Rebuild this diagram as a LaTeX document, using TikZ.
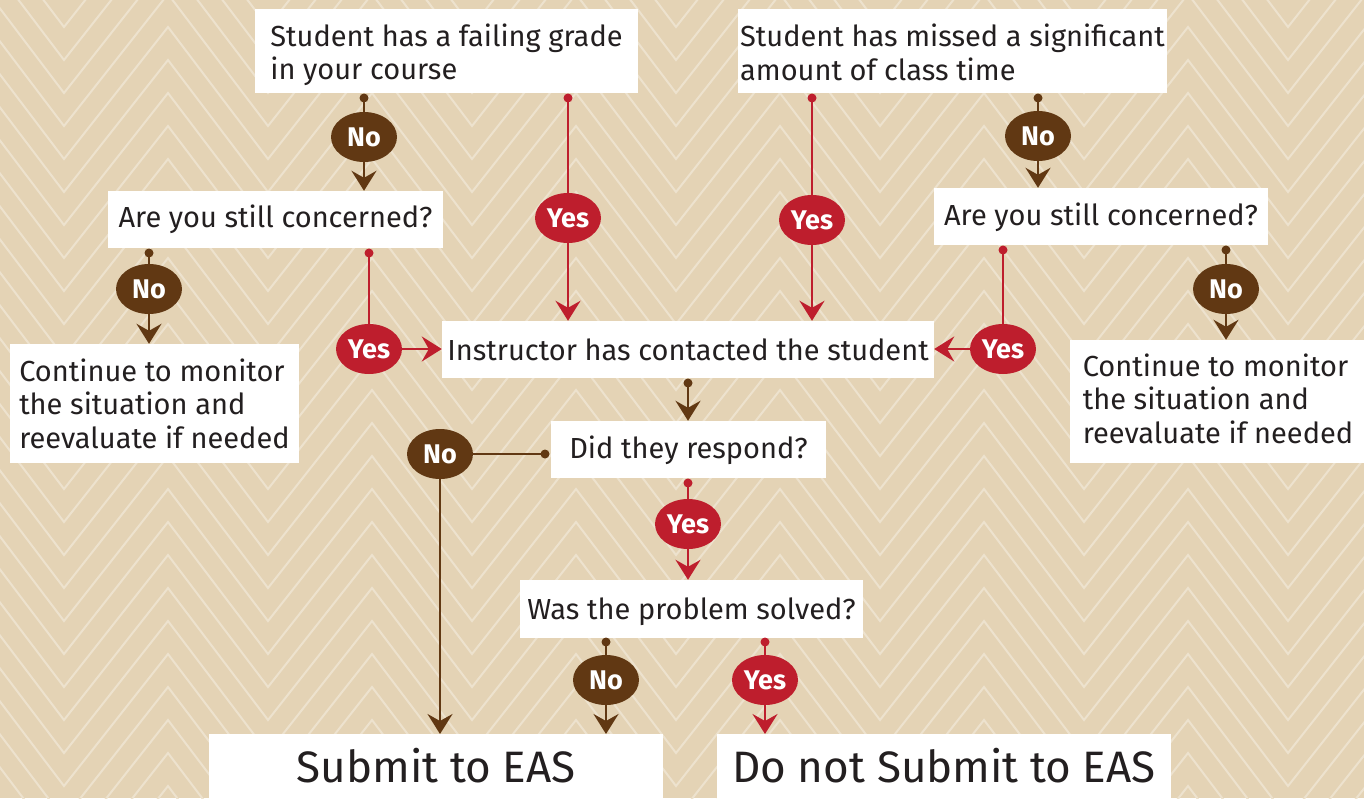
\documentclass[tikz,border=0pt]{standalone}
\usepackage{fontspec}
\setmainfont{Fira Sans}
\usetikzlibrary{shapes.geometric,arrows.meta}
\definecolor{bgc}{RGB}{228,211,181}
\definecolor{bgl}{RGB}{237,226,206}
\definecolor{brn}{RGB}{97,56,19}
\definecolor{rd}{RGB}{190,30,45}
\definecolor{txt}{RGB}{35,31,32}
\begin{document}
\begin{tikzpicture}[x=1pt,y=-1pt,
  box/.style={fill=white, text=txt, inner sep=0pt, align=left, font=\fontsize{29}{33.5}\selectfont},
  bigbox/.style={fill=white, text=txt, inner sep=0pt, anchor=north, text height=48pt, text depth=30pt, font=\fontsize{44}{50}\selectfont},
  badge/.style={ellipse, minimum width=66pt, minimum height=50pt, inner sep=0pt, text=white, font=\fontsize{27}{30}\selectfont\bfseries},
  nob/.style={badge, fill=brn},
  yesb/.style={badge, fill=rd},
  brnline/.style={draw=brn, line width=2.5pt},
  redline/.style={draw=rd, line width=2.5pt},
  arr/.style={-{Stealth[length=20pt,width=25pt,inset=7pt]}},
  bgline/.style={draw=bgl, line width=2pt},
  dotb/.style={fill=brn},
  dotr/.style={fill=rd},
]
\useasboundingbox (0,0) rectangle (1364,798);
\clip (0,0) rectangle (1364,798);
\fill[bgc] (0,0) rectangle (1364,798);
\foreach \n in {0,...,30}{
  \draw[bgline] (-140, 33*\n-6) \foreach \m in {-1,...,6}{ -- (168+204*\m, 33*\n-138) -- (268+204*\m, 33*\n-6) };
}
% boxes
\node[box, minimum width=383pt, minimum height=84pt] (b1) at (446.5,51) {\rule{0pt}{30pt}Student has a failing grade\\in your course};
\node[box, minimum width=429pt, minimum height=84pt] (b2) at (952.5,51) {\rule{0pt}{25pt}Student has missed a significant\\amount of class time};
\node[box, minimum width=335pt, minimum height=57pt] (q1) at (275.5,219.5) {Are you still concerned?};
\node[box, minimum width=334pt, minimum height=57pt] (q2) at (1101,216.5) {\rule{0pt}{25pt}Are you still concerned?};
\node[box, minimum width=289pt, minimum height=119pt] (c1) at (154.5,403.5) {Continue to monitor\\the situation and\\reevaluate if needed};
\node[box, minimum width=296pt, minimum height=123pt] (c2) at (1218,401.5) {Continue to monitor\\the situation and\\reevaluate if needed\rule[-6pt]{0pt}{0pt}};
\node[box, minimum width=492pt, minimum height=57pt] (ins) at (688,349.5) {Instructor has contacted the student};
\node[box, minimum width=275pt, minimum height=57pt] (resp) at (688.5,449.5) {\rule{0pt}{25pt}Did they respond?};
\node[box, minimum width=343pt, minimum height=58pt] (solv) at (691.5,609) {\rule{0pt}{27pt}Was the problem solved?};
\node[bigbox, minimum width=454pt] (sub) at (436,734) {Submit to EAS};
\node[bigbox, minimum width=454pt] (nosub) at (944,734) {Do not Submit to EAS};
% badges
\node[nob] (n1) at (364,137) {No};
\node[yesb] (y1) at (568,218) {Yes};
\node[yesb] (y2) at (812,220) {Yes};
\node[nob] (n2) at (1038,136) {No};
\node[nob] (n3) at (149,289) {No};
\node[yesb] (y3) at (369,349) {Yes};
\node[yesb] (y4) at (1003,349) {Yes};
\node[nob] (n4) at (1226,289) {No};
\node[nob] (n5) at (440,454) {No};
\node[yesb] (y5) at (688,524) {Yes};
\node[nob] (n6) at (606,680) {No};
\node[yesb] (y6) at (765,680) {Yes};
% dots
\coordinate (d1) at (364,98);
\coordinate (d2) at (568,98);
\coordinate (d3) at (812,98);
\coordinate (d4) at (1038,98);
\coordinate (d5) at (149,253);
\coordinate (d6) at (369,253);
\coordinate (d7) at (1003,250);
\coordinate (d8) at (1226,250);
\coordinate (d9) at (688,383);
\coordinate (d10) at (545,454);
\coordinate (d11) at (688,483);
\coordinate (d12) at (606,642);
\coordinate (d13) at (765,642);
\foreach \d in {d1,d4,d5,d8,d9,d10,d12}{ \fill[dotb] (\d) circle (4.5pt); }
\foreach \d in {d2,d3,d6,d7,d11,d13}{ \fill[dotr] (\d) circle (4.5pt); }
% connectors
\draw[brnline] (d1) -- (n1); \draw[brnline,arr] (n1) -- (n1 |- q1.north);
\draw[redline] (d2) -- (y1); \draw[redline,arr] (y1) -- (y1 |- ins.north);
\draw[redline] (d3) -- (y2); \draw[redline,arr] (y2) -- (y2 |- ins.north);
\draw[brnline] (d4) -- (n2); \draw[brnline,arr] (n2) -- (n2 |- q2.north);
\draw[brnline] (d5) -- (n3); \draw[brnline,arr] (n3) -- (n3 |- c1.north);
\draw[redline] (d6) -- (y3); \draw[redline,arr] (y3) -- (y3 -| ins.west);
\draw[redline] (d7) -- (y4); \draw[redline,arr] (y4) -- (y4 -| ins.east);
\draw[brnline] (d8) -- (n4); \draw[brnline,arr] (n4) -- (n4 |- c2.north);
\draw[brnline,arr] (d9) -- (d9 |- resp.north);
\draw[brnline] (d10) -- (n5); \draw[brnline,arr] (n5) -- (n5 |- sub.north);
\draw[redline] (d11) -- (y5); \draw[redline,arr] (y5) -- (y5 |- solv.north);
\draw[brnline] (d12) -- (n6); \draw[brnline,arr] (n6) -- (n6 |- sub.north);
\draw[redline] (d13) -- (y6); \draw[redline,arr] (y6) -- (y6 |- nosub.north);
\end{tikzpicture}
\end{document}
